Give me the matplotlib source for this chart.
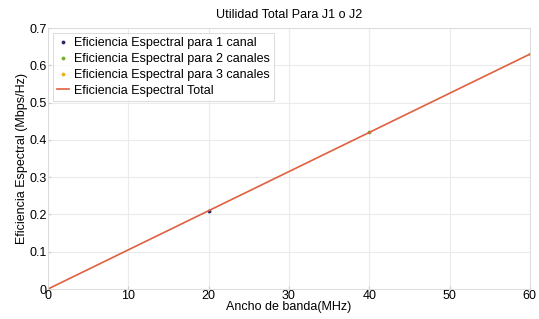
import numpy as np
import matplotlib
matplotlib.use("Agg")
import matplotlib.pyplot as plt

plt.rcParams['font.family'] = ['Liberation Sans', 'DejaVu Sans']

# data
bw_1 = [20]
ef_1 = [0.21]
bw_2 = [40]
ef_2 = [0.42]
bw_3 = [60]
ef_3 = [0.63]
bw_total = [0, 20, 40, 60]
ef_total = [0, 0.21, 0.42, 0.63]

fig = plt.figure(figsize=(5.39, 3.19), dpi=100)
ax = fig.add_axes([0.089, 0.094, 0.894, 0.818])

ax.plot(bw_1, ef_1, '.', color='#2a2a6a', markersize=3.5, label='Eficiencia Espectral para 1 canal')
ax.plot(bw_2, ef_2, '.', color='#77AC30', markersize=3.5, label='Eficiencia Espectral para 2 canales')
ax.plot(bw_3, ef_3, '.', color='#EDB120', markersize=3.5, label='Eficiencia Espectral para 3 canales')
ax.plot(bw_total, ef_total, '-', color='#E06040', linewidth=1.2, label='Eficiencia Espectral Total')

ax.set_xlim(0, 60)
ax.set_ylim(0, 0.7)
ax.set_xticks([0, 10, 20, 30, 40, 50, 60])
ax.set_yticks([0, 0.1, 0.2, 0.3, 0.4, 0.5, 0.6, 0.7])
ax.set_yticklabels(['0', '0.1', '0.2', '0.3', '0.4', '0.5', '0.6', '0.7'])
ax.grid(True, color='#ebebeb', linewidth=0.8)
ax.tick_params(labelsize=9, length=2, direction='in', color='#cccccc', pad=1)
for s in ax.spines.values():
    s.set_color('#d8d8d8')
    s.set_linewidth(0.6)

ax.set_title('Utilidad Total Para J1 o J2', fontsize=9, pad=7)
ax.set_xlabel('Ancho de banda(MHz)', fontsize=9, labelpad=-1)
ax.set_ylabel('Eficiencia Espectral (Mbps/Hz)', fontsize=9, labelpad=1)

leg = ax.legend(loc='upper left', fontsize=9, frameon=True, fancybox=False,
                edgecolor='#cccccc', handlelength=0.9, handletextpad=0.4,
                borderpad=0.35, labelspacing=0.3, borderaxespad=0.4)
leg.get_frame().set_linewidth(0.6)

fig.savefig('out.png', dpi=100)
